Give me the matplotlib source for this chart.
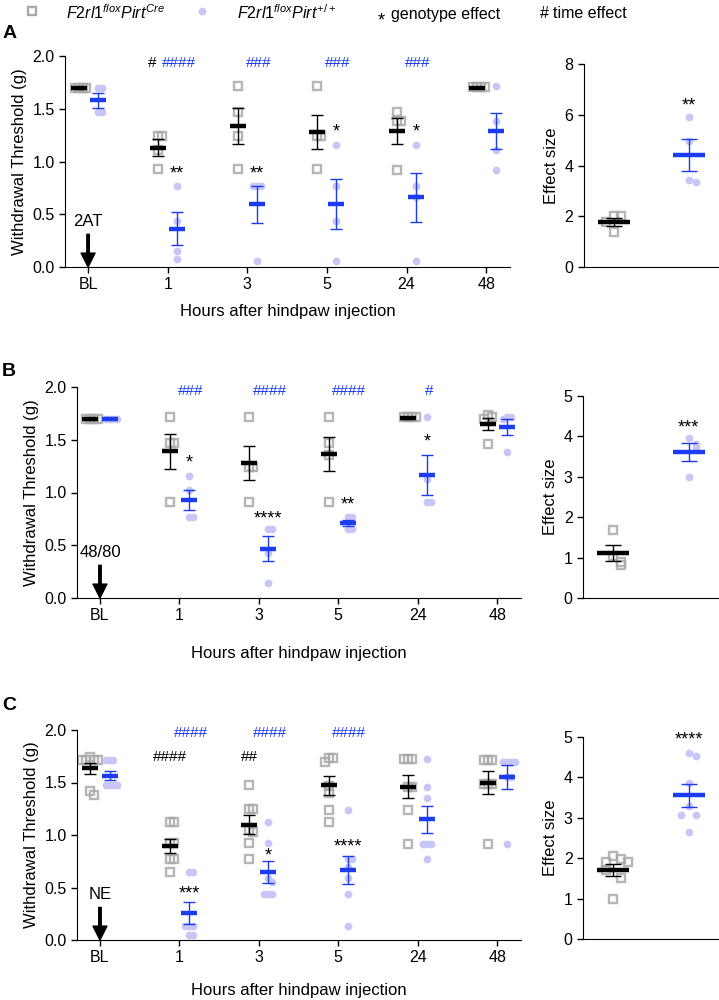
import numpy as np
import matplotlib.pyplot as plt

plt.rcParams['font.family'] = 'Liberation Sans'
plt.rcParams['mathtext.fontset'] = 'custom'
plt.rcParams['mathtext.it'] = 'Liberation Sans:italic'
plt.rcParams['mathtext.rm'] = 'Liberation Sans'

timepoints = ['BL', '1', '3', '5', '24', '48']

# ---- panel A : 2AT, n = 4 ----
a_cre = [[1.70, 1.70, 1.70, 1.70], [1.24, 1.24, 1.11, 0.93], [1.72, 1.47, 1.24, 0.93],
         [1.72, 1.24, 1.24, 0.93], [1.47, 1.38, 1.38, 0.92], [1.71, 1.71, 1.71, 1.71]]
a_pirt = [[1.70, 1.70, 1.47, 1.47], [0.77, 0.44, 0.155, 0.08], [0.77, 0.77, 0.77, 0.054],
          [1.16, 0.77, 0.44, 0.054], [1.16, 0.77, 0.66, 0.054], [1.72, 1.38, 1.11, 0.92]]
a_cre_mean = [1.70, 1.13, 1.336, 1.28, 1.29, 1.70]
a_cre_sem = [0.01, 0.08, 0.174, 0.165, 0.127, 0.0]
a_pirt_mean = [1.58, 0.363, 0.594, 0.60, 0.66, 1.29]
a_pirt_sem = [0.07, 0.155, 0.178, 0.237, 0.229, 0.174]
a_eff_cre = [2.0, 2.0, 1.78, 1.38]
a_eff_pirt = [5.92, 4.95, 3.42, 3.34]
a_eff_mean = [1.78, 4.41]
a_eff_sem = [0.16, 0.62]

# ---- panel B : 48/80, n = 4 ----
b_cre = [[1.70, 1.70, 1.70, 1.70], [1.72, 1.47, 1.47, 0.91], [1.72, 1.24, 1.24, 0.91],
         [1.72, 1.47, 1.36, 0.91], [1.72, 1.72, 1.72, 1.72], [1.73, 1.72, 1.70, 1.46]]
b_pirt = [[1.70, 1.70, 1.70, 1.70], [1.16, 1.02, 0.77, 0.77], [0.65, 0.65, 0.43, 0.14],
          [0.77, 0.77, 0.65, 0.65], [1.72, 1.13, 0.91, 0.91], [1.72, 1.72, 1.70, 1.38]]
b_cre_mean = [1.70, 1.39, 1.28, 1.365, 1.71, 1.65]
b_cre_sem = [0.01, 0.169, 0.163, 0.164, 0.01, 0.058]
b_pirt_mean = [1.70, 0.93, 0.466, 0.71, 1.165, 1.62]
b_pirt_sem = [0.0, 0.098, 0.118, 0.03, 0.186, 0.079]
b_eff_cre = [1.69, 1.05, 0.88, 0.82]
b_eff_pirt = [3.95, 3.82, 3.73, 2.99]
b_eff_mean = [1.11, 3.62]
b_eff_sem = [0.197, 0.22]

# ---- panel C : NE, n = 7 ----
c_cre = [[1.74, 1.71, 1.71, 1.71, 1.71, 1.42, 1.38], [1.12, 1.12, 0.92, 0.92, 0.77, 0.77, 0.65],
         [1.48, 1.25, 1.25, 1.05, 1.03, 0.92, 0.77], [1.73, 1.73, 1.70, 1.47, 1.40, 1.24, 1.12],
         [1.72, 1.72, 1.72, 1.46, 1.46, 1.24, 0.91], [1.71, 1.71, 1.71, 1.49, 1.49, 1.49, 0.91]]
c_pirt = [[1.71, 1.71, 1.71, 1.48, 1.48, 1.48, 1.48], [0.65, 0.65, 0.13, 0.13, 0.13, 0.05, 0.05],
          [1.12, 0.92, 0.59, 0.55, 0.44, 0.44, 0.44], [1.24, 0.77, 0.77, 0.70, 0.59, 0.44, 0.13],
          [1.72, 1.46, 1.35, 0.91, 0.91, 0.91, 0.77], [1.70, 1.70, 1.70, 1.70, 1.55, 1.55, 0.91]]
c_cre_mean = [1.635, 0.895, 1.10, 1.475, 1.46, 1.50]
c_cre_sem = [0.05, 0.067, 0.092, 0.09, 0.111, 0.106]
c_pirt_mean = [1.565, 0.256, 0.645, 0.667, 1.15, 1.555]
c_pirt_sem = [0.044, 0.103, 0.103, 0.13, 0.129, 0.114]
c_eff_cre = [2.05, 1.98, 1.90, 1.90, 1.70, 1.50, 1.00]
c_eff_pirt = [4.60, 4.52, 3.86, 3.28, 3.08, 3.08, 2.64]
c_eff_mean = [1.716, 3.556]
c_eff_sem = [0.15, 0.29]

# significance marks
a_cre_hash = ['', '#', '', '', '', '']
a_pirt_hash = ['', '####', '###', '###', '###', '']
a_stars = ['', '**', '**', '*', '*', '']
a_star_y = [0, 0.88, 0.88, 1.28, 1.28, 0]
b_cre_hash = ['', '', '', '', '', '']
b_pirt_hash = ['', '###', '####', '####', '#', '']
b_stars = ['', '*', '****', '**', '*', '']
b_star_y = [0, 1.28, 0.75, 0.88, 1.48, 0]
c_cre_hash = ['', '####', '##', '', '', '']
c_pirt_hash = ['', '####', '####', '####', '', '']
c_stars = ['', '***', '*', '****', '', '']
c_star_y = [0, 0.44, 0.80, 0.885, 0, 0]

GREY = '#a9a9a9'
LIGHT = '#c6c6f7'
BLUE = '#1c3cf2'


def spread(vals, tol, step):
    offs = []
    seq = [0, 1, -1, 2, -2, 3, -3]
    for i, v in enumerate(vals):
        n = sum(1 for w in vals[:i] if abs(w - v) < tol)
        offs.append(seq[min(n, len(seq) - 1)] * step)
    return np.array(offs)


def style(ax):
    ax.spines['top'].set_visible(False)
    ax.spines['right'].set_visible(False)
    ax.tick_params(direction='out', length=4, width=1, labelsize=11.5)


def main_panel(rect, cre, pirt, cm, cs, pm, ps, chash, phash, stars, stary, hash_y,
               hash_dx, arrow_text, xlabpad):
    ax = fig.add_axes(rect)
    style(ax)
    x = np.arange(len(timepoints))
    for i in range(len(timepoints)):
        ox = spread(cre[i], 0.06, 0.05)
        ax.plot(x[i] - 0.12 + ox, cre[i], ls='none', marker='s', ms=6.4, mfc='none',
                mec=GREY, mew=1.7, alpha=0.85)
        ox = spread(pirt[i], 0.06, 0.05)
        ax.plot(x[i] + 0.12 + ox, pirt[i], ls='none', marker='o', ms=5.6, mfc=LIGHT,
                mec='none')
    ax.errorbar(x - 0.12, cm, yerr=cs, fmt='none', ecolor='black', elinewidth=1,
                capsize=4, capthick=1)
    ax.errorbar(x + 0.12, pm, yerr=ps, fmt='none', ecolor=BLUE, elinewidth=1,
                capsize=4, capthick=1)
    ax.plot(x - 0.12, cm, ls='none', marker='_', ms=11, mew=3.2, color='black')
    ax.plot(x + 0.12, pm, ls='none', marker='_', ms=11, mew=3.2, color=BLUE)
    for i in range(len(timepoints)):
        if chash[i]:
            ax.text(x[i] + hash_dx, hash_y[0], chash[i], ha='center', va='center',
                    fontsize=11)
        if phash[i]:
            ax.text(x[i] + 0.14, hash_y[1], phash[i], ha='center', va='center',
                    fontsize=11, color=BLUE)
        if stars[i]:
            ax.text(x[i] + 0.12, stary[i], stars[i], ha='center', va='center', fontsize=13)
    ax.annotate('', xy=(0, 0.0), xytext=(0, 0.31),
                arrowprops=dict(facecolor='black', edgecolor='black', width=1.8,
                                headwidth=10, headlength=10, shrink=0))
    ax.text(0, 0.43, arrow_text, ha='center', va='center', fontsize=12)
    ax.set_xlim(-0.29, 5.3)
    ax.set_ylim(0, 2.0)
    ax.set_yticks([0, 0.5, 1.0, 1.5, 2.0])
    ax.set_yticklabels(['0.0', '0.5', '1.0', '1.5', '2.0'])
    ax.set_xticks(x)
    ax.set_xticklabels(timepoints)
    ax.set_ylabel('Withdrawal Threshold (g)', fontsize=12)
    ax.set_xlabel('Hours after hindpaw injection', fontsize=12, labelpad=xlabpad)
    return ax


def effect_panel(rect, cre, pirt, means, sems, ymax, star, star_y, tol):
    ax = fig.add_axes(rect)
    style(ax)
    ox = spread(cre, tol, 0.1)
    ax.plot(0 + ox, cre, ls='none', marker='s', ms=6.4, mfc='none', mec=GREY, mew=1.7,
            alpha=0.85)
    ox = spread(pirt, tol, 0.1)
    ax.plot(1 + ox, pirt, ls='none', marker='o', ms=5.6, mfc=LIGHT, mec='none')
    ax.errorbar([0], [means[0]], yerr=[sems[0]], fmt='none', ecolor='black',
                elinewidth=1, capsize=5.5, capthick=1)
    ax.errorbar([1], [means[1]], yerr=[sems[1]], fmt='none', ecolor=BLUE,
                elinewidth=1, capsize=5.5, capthick=1)
    ax.plot([0], [means[0]], ls='none', marker='_', ms=23, mew=3.2, color='black')
    ax.plot([1], [means[1]], ls='none', marker='_', ms=23, mew=3.2, color=BLUE)
    ax.text(1, star_y, star, ha='center', va='center', fontsize=13)
    ax.set_xlim(-0.4, 1.4)
    ax.set_ylim(0, ymax)
    ax.set_xticks([])
    ax.set_ylabel('Effect size', fontsize=12)
    return ax


fig = plt.figure(figsize=(7.19, 10), dpi=100)

main_panel([0.0904, 0.733, 0.619, 0.211], a_cre, a_pirt, a_cre_mean, a_cre_sem,
           a_pirt_mean, a_pirt_sem, a_cre_hash, a_pirt_hash, a_stars, a_star_y,
           (1.93, 1.93), -0.19, '2AT', 8)
ax = effect_panel([0.812, 0.733, 0.188, 0.203], a_eff_cre, a_eff_pirt, a_eff_mean,
                  a_eff_sem, 8, '**', 6.35, 0.3)
ax.set_yticks([0, 2, 4, 6, 8])

main_panel([0.107, 0.402, 0.6176, 0.211], b_cre, b_pirt, b_cre_mean, b_cre_sem,
           b_pirt_mean, b_pirt_sem, b_cre_hash, b_pirt_hash, b_stars, b_star_y,
           (1.96, 1.96), -0.12, '48/80', 16)
ax = effect_panel([0.811, 0.402, 0.189, 0.202], b_eff_cre, b_eff_pirt, b_eff_mean,
                  b_eff_sem, 5, '***', 4.22, 0.2)

main_panel([0.107, 0.06, 0.6176, 0.21], c_cre, c_pirt, c_cre_mean, c_cre_sem,
           c_pirt_mean, c_pirt_sem, c_cre_hash, c_pirt_hash, c_stars, c_star_y,
           (1.745, 1.97), -0.12, 'NE', 13)
ax = effect_panel([0.811, 0.061, 0.189, 0.202], c_eff_cre, c_eff_pirt, c_eff_mean,
                  c_eff_sem, 5, '****', 4.92, 0.2)

# legend row at the top
leg = fig.add_axes([0, 0.97, 1, 0.03])
leg.set_xlim(0, 719)
leg.set_ylim(30, 0)
leg.axis('off')
leg.plot([32], [11], ls='none', marker='s', ms=6.4, mfc='none', mec=GREY, mew=1.7)
leg.text(66, 13, r'$\mathit{F2rl1}^{\mathit{flox}}\mathit{Pirt}^{\mathit{Cre}}$',
         ha='left', va='center', fontsize=11.5)
leg.plot([202], [11], ls='none', marker='o', ms=5.6, mfc=LIGHT, mec='none')
leg.text(237, 13, r'$\mathit{F2rl1}^{\mathit{flox}}\mathit{Pirt}^{+/+}$',
         ha='left', va='center', fontsize=11.5)
leg.text(378, 21, '*', ha='left', va='center', fontsize=13)
leg.text(391, 14, 'genotype effect', ha='left', va='center', fontsize=11.5)
leg.text(540, 14, '#', ha='left', va='center', fontsize=11.5)
leg.text(553, 14, 'time effect', ha='left', va='center', fontsize=11.5)

fig.text(0.003, 0.967, 'A', fontsize=14, fontweight='bold', va='center')
fig.text(0.003, 0.628, 'B', fontsize=14, fontweight='bold', va='center')
fig.text(0.003, 0.295, 'C', fontsize=14, fontweight='bold', va='center')

fig.savefig('out.png', dpi=100)
